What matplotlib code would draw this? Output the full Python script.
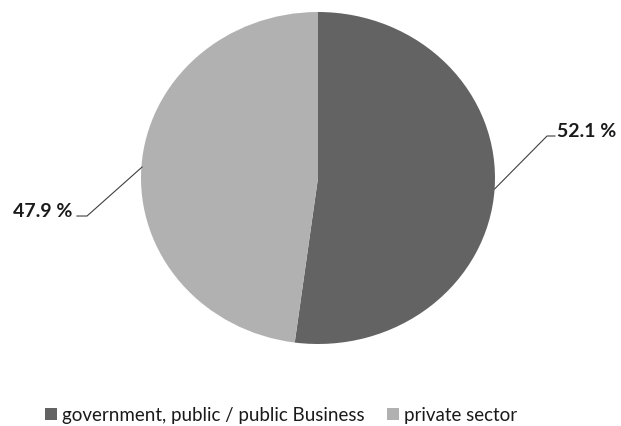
import matplotlib.pyplot as plt
from matplotlib.patches import Patch

labels = ["government, public / public Business", "private sector"]
values = [52.1, 47.9]
colors = ["#636363", "#b1b1b1"]
pct_text = ["52.1 %", "47.9 %"]

plt.rcParams['font.family'] = ['Lato', 'DejaVu Sans']

fig = plt.figure(figsize=(6.21, 4.27), dpi=100)
# pie area in pixels: x 141-495, y 13-345 (slightly squashed like the original)
ax = fig.add_axes([141 / 621, (427 - 345) / 427, 354 / 621, 332 / 427])
ax.pie(values, colors=colors, startangle=90, counterclock=False,
       wedgeprops=dict(linewidth=0))
ax.set_aspect('auto')
ax.set_xlim(-1, 1)
ax.set_ylim(-1, 1)

# leader lines (data coords: x=(px-318)/177, y=(179-py)/166)
ax.plot([0.998, 1.294, 1.339], [-0.066, 0.253, 0.253], color="#404040", lw=0.8, clip_on=False)
ax.plot([-0.994, -1.305, -1.362], [0.066, -0.229, -0.229], color="#404040", lw=0.8, clip_on=False)
ax.text(1.35, 0.289, pct_text[0], fontsize=14, fontweight='bold', color="#1a1a1a",
        ha='left', va='center', clip_on=False)
ax.text(-1.39, -0.193, pct_text[1], fontsize=14, fontweight='bold', color="#1a1a1a",
        ha='right', va='center', clip_on=False)

handles = [Patch(facecolor=c, edgecolor='none') for c in colors]
fig.legend(handles, labels, loc='center', bbox_to_anchor=(281 / 621, 1 - 416 / 427),
           ncol=2, frameon=False, fontsize=13.5, handlelength=0.65, handleheight=0.65,
           handletextpad=0.25, columnspacing=1.2, labelcolor="#1a1a1a")

fig.savefig("out.png", dpi=100)
